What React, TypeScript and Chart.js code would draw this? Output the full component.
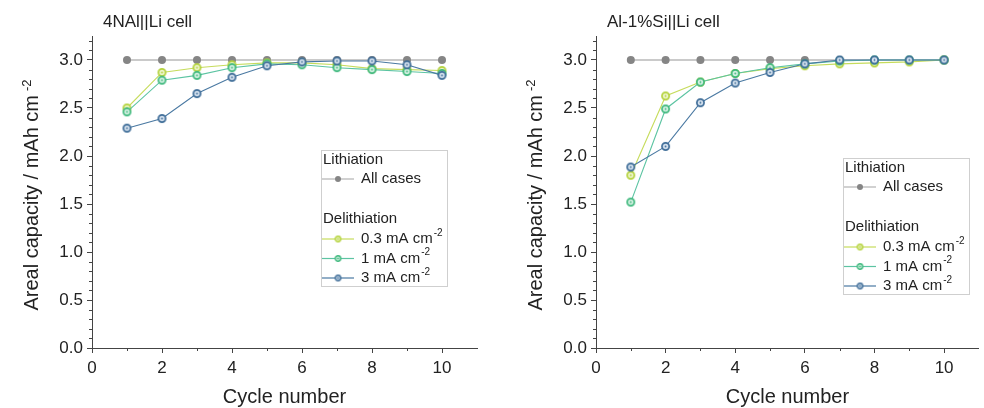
import React, { useEffect, useRef } from "react";
import { Chart, registerables } from "chart.js";
Chart.register(...registerables);

// ---------- data ----------
const cycles = [1, 2, 3, 4, 5, 6, 7, 8, 9, 10];
const xMajorTicks = [0, 2, 4, 6, 8, 10];
const xMinorTicks = [1, 3, 5, 7, 9];
const yMajorTicks = [0, 0.5, 1.0, 1.5, 2.0, 2.5, 3.0];
const yMinorTicks = [0.1, 0.2, 0.3, 0.4, 0.6, 0.7, 0.8, 0.9, 1.1, 1.2, 1.3, 1.4, 1.6, 1.7, 1.8, 1.9, 2.1, 2.2, 2.3, 2.4, 2.6, 2.7, 2.8, 2.9, 3.1, 3.2];

const leftLithiation = [3.0, 3.0, 3.0, 3.0, 3.0, 3.0, 3.0, 3.0, 3.0, 3.0];
const left03 = [2.5, 2.87, 2.92, 2.95, 2.97, 2.97, 2.95, 2.91, 2.9, 2.89];
const left1 = [2.46, 2.79, 2.84, 2.92, 2.96, 2.95, 2.92, 2.9, 2.88, 2.86];
const left3 = [2.29, 2.39, 2.65, 2.82, 2.94, 2.98, 2.99, 2.99, 2.95, 2.84];

const rightLithiation = [3.0, 3.0, 3.0, 3.0, 3.0, 3.0, 3.0, 3.0, 3.0, 3.0];
const right03 = [1.8, 2.625, 2.77, 2.86, 2.91, 2.94, 2.96, 2.97, 2.98, 3.0];
const right1 = [1.52, 2.49, 2.77, 2.86, 2.92, 2.96, 2.99, 3.0, 3.0, 3.0];
const right3 = [1.885, 2.1, 2.555, 2.76, 2.87, 2.96, 3.0, 3.0, 3.0, 3.0];

const FONT = '"Liberation Sans", Arial, Helvetica, sans-serif';
const AXIS = "#444444";
const TEXT = "#222222";

const GRAY_LINE = "#b9b9b9";
const GRAY_PT = "#858585";
const YEL = { line: "#c6dc5c", stroke: "#b3d23a", fill: "#eef5cc" };
const GRN = { line: "#5cc4a2", stroke: "#3db87c", fill: "#d7f1e4" };
const BLU = { line: "#4a79a2", stroke: "#3b6a96", fill: "#d7e3ef" };

function makeMarker(stroke: string, fill: string, size: number, r: number, lw: number): HTMLCanvasElement {
  const c = document.createElement("canvas");
  c.width = size;
  c.height = size;
  const g = c.getContext("2d")!;
  const m = size / 2;
  g.beginPath();
  g.arc(m, m, r, 0, Math.PI * 2);
  g.fillStyle = fill;
  g.fill();
  g.lineWidth = lw;
  g.strokeStyle = stroke;
  g.stroke();
  g.beginPath();
  g.arc(m, m, 0.9, 0, Math.PI * 2);
  g.fillStyle = stroke;
  g.fill();
  return c;
}

type PanelSpec = {
  title: string;
  lith: number[];
  s03: number[];
  s1: number[];
  s3: number[];
  padRight: number;
  legendDx: number;
  legendTop: number;
};

function buildConfig(spec: PanelSpec, markers: HTMLCanvasElement[], legendMarkers: HTMLCanvasElement[]): any {
  const pts = (arr: number[]) => cycles.map((c, i) => ({ x: c, y: arr[i] }));
  const entries = [
    { text: "0.3 mA cm", sup: "-2", col: YEL, m: legendMarkers[0] },
    { text: "1 mA cm", sup: "-2", col: GRN, m: legendMarkers[1] },
    { text: "3 mA cm", sup: "-2", col: BLU, m: legendMarkers[2] },
  ];

  const decor = {
    id: "decor",
    afterDraw(chart: any) {
      const ctx = chart.ctx as CanvasRenderingContext2D;
      const { left, bottom } = chart.chartArea;
      const xs = chart.scales.x;
      const ys = chart.scales.y;
      ctx.save();
      // minor ticks
      ctx.strokeStyle = AXIS;
      ctx.lineWidth = 1;
      ctx.beginPath();
      for (const v of xMinorTicks) {
        const px = Math.round(xs.getPixelForValue(v)) + 0.5;
        ctx.moveTo(px, bottom);
        ctx.lineTo(px, bottom + 3);
      }
      for (const v of yMinorTicks) {
        const py = Math.round(ys.getPixelForValue(v)) + 0.5;
        ctx.moveTo(left - 3, py);
        ctx.lineTo(left, py);
      }
      ctx.stroke();

      // panel title
      ctx.fillStyle = TEXT;
      ctx.font = `17px ${FONT}`;
      ctx.textBaseline = "alphabetic";
      ctx.textAlign = "left";
      ctx.fillText(spec.title, left + 11, 27);

      // y axis title with superscript
      ctx.save();
      ctx.translate(38, 195);
      ctx.rotate(-Math.PI / 2);
      ctx.font = `20px ${FONT}`;
      const main = "Areal capacity / mAh cm";
      const wm = ctx.measureText(main).width;
      ctx.font = `13px ${FONT}`;
      const ws = ctx.measureText("-2").width;
      const gap = 4;
      const total = wm + gap + ws;
      const sx = -total / 2;
      ctx.font = `20px ${FONT}`;
      ctx.fillText(main, sx, 0);
      ctx.font = `13px ${FONT}`;
      ctx.fillText("-2", sx + wm + gap, -7);
      ctx.restore();

      // legend box
      const lx = left + spec.legendDx;
      const ly = spec.legendTop;
      const lw = 126;
      const lh = 136;
      ctx.fillStyle = "#ffffff";
      ctx.fillRect(lx, ly, lw, lh);
      ctx.strokeStyle = "#cfcfcf";
      ctx.lineWidth = 1;
      ctx.strokeRect(lx + 0.5, ly + 0.5, lw, lh);

      ctx.fillStyle = TEXT;
      ctx.textBaseline = "middle";
      ctx.font = `15px ${FONT}`;
      ctx.fillText("Lithiation", lx + 2, ly + 10);
      const ry = ly + 29;
      ctx.strokeStyle = GRAY_LINE;
      ctx.lineWidth = 1.3;
      ctx.beginPath();
      ctx.moveTo(lx + 1, ry);
      ctx.lineTo(lx + 33, ry);
      ctx.stroke();
      ctx.fillStyle = GRAY_PT;
      ctx.beginPath();
      ctx.arc(lx + 17, ry, 3, 0, Math.PI * 2);
      ctx.fill();
      ctx.fillStyle = TEXT;
      ctx.fillText("All cases", lx + 40, ry);

      ctx.fillText("Delithiation", lx + 2, ly + 69);
      entries.forEach((e, i) => {
        const y = ly + 89 + i * 19.5;
        ctx.strokeStyle = e.col.line;
        ctx.lineWidth = 1.2;
        ctx.beginPath();
        ctx.moveTo(lx + 1, y);
        ctx.lineTo(lx + 33, y);
        ctx.stroke();
        ctx.drawImage(e.m, lx + 17 - e.m.width / 2, y - e.m.height / 2);
        ctx.fillStyle = TEXT;
        ctx.font = `15px ${FONT}`;
        ctx.fillText(e.text, lx + 40, y);
        const w = ctx.measureText(e.text).width;
        ctx.font = `10px ${FONT}`;
        ctx.fillText(e.sup, lx + 40 + w + 1, y - 6);
      });
      ctx.restore();
    },
  };

  return {
    type: "line",
    data: {
      datasets: [
        {
          label: "All cases",
          data: pts(spec.lith),
          borderColor: GRAY_LINE,
          borderWidth: 1.5,
          pointStyle: "circle",
          pointRadius: 4,
          pointBackgroundColor: GRAY_PT,
          pointBorderColor: GRAY_PT,
          pointBorderWidth: 0,
          order: 4,
        },
        {
          label: "0.3 mA cm-2",
          data: pts(spec.s03),
          borderColor: YEL.line,
          borderWidth: 1.1,
          pointStyle: markers[0],
          pointRadius: 4,
          order: 3,
        },
        {
          label: "1 mA cm-2",
          data: pts(spec.s1),
          borderColor: GRN.line,
          borderWidth: 1.1,
          pointStyle: markers[1],
          pointRadius: 4,
          order: 2,
        },
        {
          label: "3 mA cm-2",
          data: pts(spec.s3),
          borderColor: BLU.line,
          borderWidth: 1.1,
          pointStyle: markers[2],
          pointRadius: 4,
          order: 1,
        },
      ],
    },
    options: {
      responsive: false,
      animation: false,
      devicePixelRatio: 1,
      layout: { padding: { top: 36, right: spec.padRight, left: 0, bottom: 0 } },
      plugins: {
        legend: { display: false },
        tooltip: { enabled: false },
        title: { display: false },
      },
      elements: { line: { tension: 0 } },
      scales: {
        x: {
          type: "linear",
          min: 0,
          max: 11,
          afterBuildTicks: (s: any) => {
            s.ticks = xMajorTicks.map((v) => ({ value: v }));
          },
          afterFit: (s: any) => {
            s.height = 60;
          },
          grid: { drawOnChartArea: false, tickLength: 5, color: AXIS, tickColor: AXIS },
          border: { display: true, color: AXIS, width: 1 },
          ticks: {
            color: TEXT,
            font: { family: FONT, size: 17 },
            padding: 5,
            maxRotation: 0,
            autoSkip: false,
            callback: (v: any) => String(v),
          },
          title: {
            display: true,
            text: "Cycle number",
            color: TEXT,
            font: { family: FONT, size: 20, lineHeight: 1.1 },
            padding: { top: 0, bottom: 0 },
          },
        },
        y: {
          type: "linear",
          min: 0,
          max: 3.25,
          afterBuildTicks: (s: any) => {
            s.ticks = yMajorTicks.map((v) => ({ value: v }));
          },
          afterFit: (s: any) => {
            s.width = 92;
          },
          grid: { drawOnChartArea: false, tickLength: 5, color: AXIS, tickColor: AXIS },
          border: { display: true, color: AXIS, width: 1 },
          ticks: {
            color: TEXT,
            font: { family: FONT, size: 17 },
            padding: 4,
            autoSkip: false,
            callback: (v: any) => Number(v).toFixed(1),
          },
        },
      },
    },
    plugins: [decor],
  };
}

function Panel(props: { spec: PanelSpec; left: number; width: number }) {
  const ref = useRef<HTMLCanvasElement | null>(null);
  useEffect(() => {
    if (!ref.current) return;
    const markers = [
      makeMarker(YEL.stroke, YEL.fill, 11, 3.6, 1.7),
      makeMarker(GRN.stroke, GRN.fill, 11, 3.6, 1.7),
      makeMarker(BLU.stroke, BLU.fill, 11, 3.6, 1.7),
    ];
    const legendMarkers = [
      makeMarker(YEL.stroke, YEL.fill, 9, 2.7, 1.4),
      makeMarker(GRN.stroke, GRN.fill, 9, 2.7, 1.4),
      makeMarker(BLU.stroke, BLU.fill, 9, 2.7, 1.4),
    ];
    const chart = new Chart(ref.current, buildConfig(props.spec, markers, legendMarkers));
    return () => chart.destroy();
  }, []);
  return (
    <div style={{ position: "absolute", left: props.left, top: 0, width: props.width, height: 408 }}>
      <canvas ref={ref} width={props.width} height={408} style={{ width: props.width, height: 408, display: "block" }} />
    </div>
  );
}

const leftSpec: PanelSpec = {
  title: "4NAl||Li cell",
  lith: leftLithiation,
  s03: left03,
  s1: left1,
  s3: left3,
  padRight: 15,
  legendDx: 229,
  legendTop: 150,
};

const rightSpec: PanelSpec = {
  title: "Al-1%Si||Li cell",
  lith: rightLithiation,
  s03: right03,
  s1: right1,
  s3: right3,
  padRight: 2,
  legendDx: 247,
  legendTop: 158,
};

export default function App() {
  return (
    <div style={{ position: "absolute", left: 0, top: 0, width: 984, height: 408, background: "#ffffff", overflow: "hidden" }}>
      <Panel spec={leftSpec} left={0} width={492} />
      <Panel spec={rightSpec} left={504} width={480} />
    </div>
  );
}
